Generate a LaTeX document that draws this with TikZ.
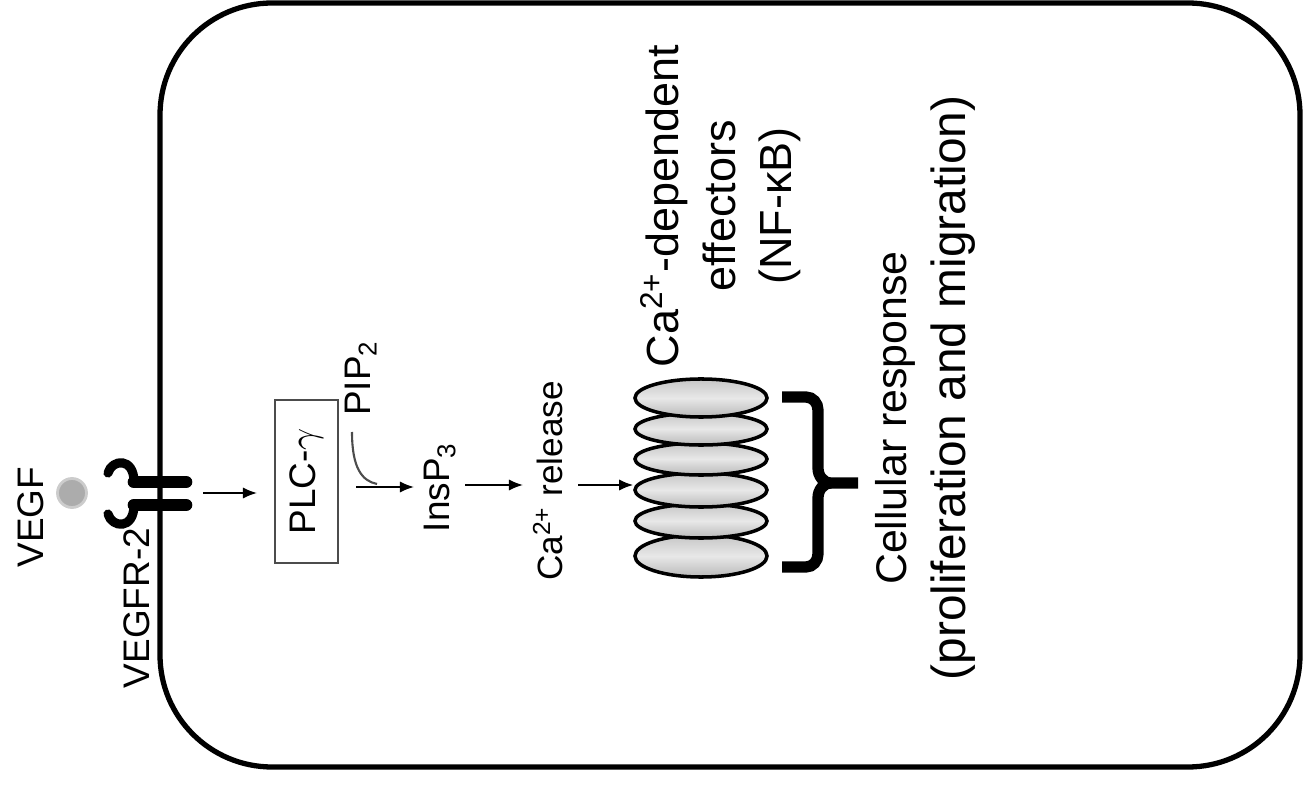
\documentclass[tikz,border=0pt]{standalone}
\usepackage{fontspec}
\setmainfont{Liberation Sans}
\usetikzlibrary{arrows.meta,shapes.geometric}
\begin{document}
\begin{tikzpicture}[x=0.01cm,y=-0.01cm,
  lbl/.style={rotate=90, inner sep=0pt, font=\fontsize{10.5}{12}\selectfont},
  arr/.style={-{Latex[length=4pt,width=3.2pt]}, line width=0.5pt},
  disc/.style={ellipse, draw=black, line width=1pt, inner sep=0pt,
    top color=gray!45, bottom color=gray!55, middle color=gray!18},
  hook/.style={line width=2.6pt, line cap=round},
  bar/.style={line width=3.6pt, line cap=round},
]
\useasboundingbox (0,0) rectangle (1305,785);
% cell
\draw[line width=1.5pt, rounded corners=1.12cm] (160,3) rectangle (1300,767);

% VEGF ligand and receptor
\node[circle, inner sep=0pt, minimum size=0.29cm, fill=gray!65, draw=gray!40, line width=0.8pt] (ball) at (72,493) {};
\node[lbl] (vegf) at (31,517) {VEGF};
\node[lbl] (vegfr) at (137,608) {VEGFR-2};
\draw[bar] (134,482) -- (186,482);
\draw[bar] (134,505) -- (186,505);
\draw[hook] (108,473) .. controls (112,459) and (134,457) .. (134,482);
\draw[hook] (108,514) .. controls (112,528) and (134,530) .. (134,505);
\coordinate (rec) at (203,493);

% PLC
\node[draw=black!70, line width=0.6pt, rotate=90, minimum width=1.63cm, minimum height=0.63cm, inner sep=0pt,
      font=\fontsize{10.5}{12}\selectfont] (plc) at (306.5,481.5) {PLC-$\gamma$};
\coordinate (plcin) at (257,493);
\draw[arr] (rec) -- (plcin);

% PIP2 -> InsP3
\node[lbl] (pip) at (361,378) {PIP\textsubscript{2}};
\node[lbl] (insp) at (440,487) {InsP\textsubscript{3}};
\coordinate (pipc) at (352,432);
\coordinate (pipj) at (377,484);
\coordinate (a2s) at (356,487);
\coordinate (a2e) at (414,487);
\draw[gray!60!black, line width=0.6pt] (pipc) .. controls (352,468) and (362,481) .. (pipj);
\draw[arr] (a2s) -- (a2e);

% InsP3 -> Ca release
\node[lbl, font=\fontsize{10}{12}\selectfont] (carel) at (548,481) {Ca\textsuperscript{2+} release};
\coordinate (a3s) at (465,485);
\coordinate (a3e) at (523,485);
\draw[arr] (a3s) -- (a3e);

% stack of effectors
\node[disc, minimum width=1.32cm, minimum height=0.42cm] (s6) at (701,556) {};
\node[disc, minimum width=1.32cm, minimum height=0.34cm] (s5) at (701,521) {};
\node[disc, minimum width=1.32cm, minimum height=0.34cm] (s4) at (701,490) {};
\node[disc, minimum width=1.32cm, minimum height=0.32cm] (s3) at (701,459) {};
\node[disc, minimum width=1.32cm, minimum height=0.32cm] (s2) at (701,429) {};
\node[disc, minimum width=1.32cm, minimum height=0.38cm] (s1) at (701,398) {};
\coordinate (a4s) at (578,485);
\draw[arr] (a4s) -- (s4.west |- a4s);

\node[lbl, align=center, font=\fontsize{12.8}{16.2}\selectfont] (eff) at (721,206)
  {Ca\textsuperscript{2+}-dependent\\effectors\\(NF-κB)};

% brace
\draw[line width=3.2pt] (782,397) -- (806,397) to[out=0,in=90] (818,410) -- (818,468)
  to[out=-90,in=180] (831,483) -- (858,483);
\draw[line width=3.2pt] (782,567) -- (806,567) to[out=0,in=-90] (818,554) -- (818,498)
  to[out=90,in=180] (831,483);

\node[lbl, font=\fontsize{12.2}{14}\selectfont] (resp) at (895,418) {Cellular response};
\node[lbl, font=\fontsize{13.6}{16}\selectfont] (resp2) at (953,388) {(proliferation and migration)};
\end{tikzpicture}
\end{document}
